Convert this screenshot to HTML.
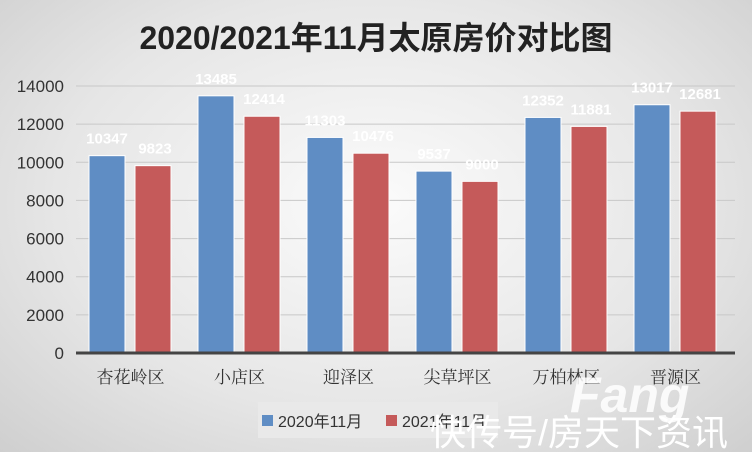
<!DOCTYPE html>
<html><head><meta charset="utf-8"><style>
body{margin:0;width:752px;height:452px;overflow:hidden;font-family:"Liberation Sans","Noto Sans CJK SC",sans-serif;}
#bg{position:absolute;left:0;top:0;width:752px;height:452px;background:radial-gradient(ellipse at 50% 45%,#fbfbfb 0%,#e6e6e6 60%,#cfcfcf 100%);}
</style></head><body>
<div id="bg"></div>
<svg id="c" width="752" height="452" style="position:absolute;left:0;top:0"></svg>
<script>
const categories=["杏花岭区","小店区","迎泽区","尖草坪区","万柏林区","晋源区"];
const series2020=[10347,13485,11303,9537,12352,13017];
const series2021=[9823,12414,10476,9000,11881,12681];
const yTicks=[0,2000,4000,6000,8000,10000,12000,14000];
const NS="http://www.w3.org/2000/svg";
const svg=document.getElementById('c');
const x0=76,groupW=109,y0=353,yScale=(353-86)/14000;
const y=v=>y0-v*yScale;
function mk(t,a,txt){const e=document.createElementNS(NS,t);for(const k in a)e.setAttribute(k,a[k]);if(txt!==undefined)e.textContent=txt;svg.appendChild(e);return e;}
let t=mk('text',{x:376,y:49,'text-anchor':'middle','font-size':32,'font-weight':'bold',fill:'#222'},'2020/2021年11月太原房价对比图');


yTicks.forEach(v=>{
 if(v>0){let l=mk('line',{x1:x0,x2:735,y1:y(v),y2:y(v),stroke:'#c8c8c8','stroke-width':1});
 
 }
 let e=mk('text',{x:64,y:y(v)+6,'text-anchor':'end','font-size':17,fill:'#333'},String(v));
 
 
});
categories.forEach((c,i)=>{
 const gx=x0+i*groupW;
 const bx1=gx+13,bx2=gx+59,bw=36;
 let b=mk('rect',{x:bx1,y:y(series2020[i]),width:bw,height:series2020[i]*yScale,fill:'#5f8dc4',stroke:'#fff','stroke-width':1});
 
 
 let r=mk('rect',{x:bx2,y:y(series2021[i]),width:bw,height:series2021[i]*yScale,fill:'#c55a5a',stroke:'#fff','stroke-width':1});
 
 
 let l1=mk('text',{x:bx1+bw/2,y:y(series2020[i])-12,'text-anchor':'middle','font-size':15,'font-weight':'bold',fill:'#fff'},String(series2020[i]));
 
 
 let l2=mk('text',{x:bx2+bw/2+2,y:y(series2021[i])-12,'text-anchor':'middle','font-size':15,'font-weight':'bold',fill:'#fff'},String(series2021[i]));
 
 
 let cl=mk('text',{x:gx+groupW/2,y:383,'text-anchor':'middle','font-size':17,fill:'#333','font-family':'"Noto Serif CJK SC",serif'},c);
 
 
});
let ax=mk('line',{x1:x0,x2:735,y1:y0,y2:y0,stroke:'#444','stroke-width':3});


let lb=mk('rect',{x:258,y:402,width:240,height:36,fill:'#e9e9e9'});


let s1=mk('rect',{x:262,y:415,width:11,height:11,fill:'#5f8dc4'});


let t1=mk('text',{x:278,y:427,'font-size':16,fill:'#333'},'2020年11月');


let s2=mk('rect',{x:386,y:415,width:11,height:11,fill:'#c55a5a'});


let t2=mk('text',{x:402,y:427,'font-size':16,fill:'#333'},'2021年11月');


let w1=mk('text',{x:570,y:412,'font-size':50,'font-weight':'bold','font-style':'italic',fill:'#fff','fill-opacity':0.85},'Fang');


let w2=mk('text',{x:430,y:445,'font-size':36,fill:'#fff'},'快传号/房天下资讯');


</script>
</body></html>
